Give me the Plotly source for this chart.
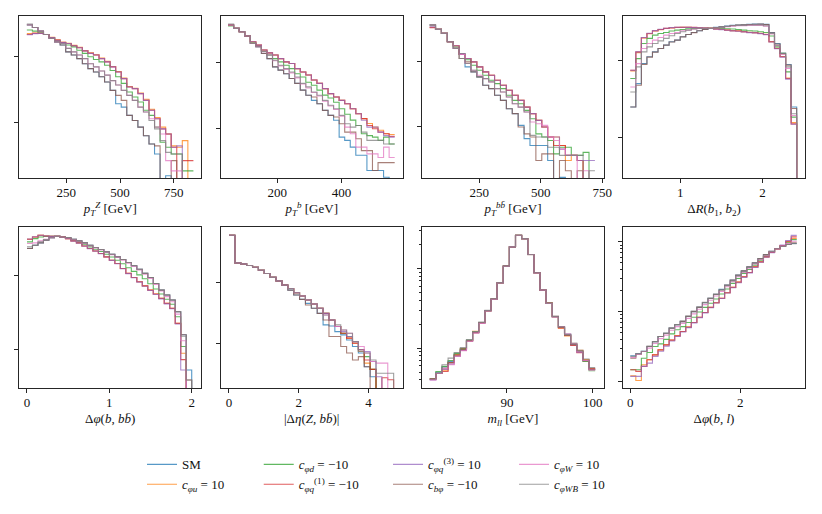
import numpy as np
import plotly.graph_objects as go

# ---------------- bin edges ----------------
ptz_edges = list(np.linspace(66, 842, 31))
ptb_edges = list(np.linspace(47, 565, 31))
ptbb_edges = list(np.linspace(49, 720, 29))
dr_edges = list(np.linspace(0.393, 2.417, 31)) + [2.485]
dphibb_edges = list(np.linspace(0.0, 2.0, 31)) + [2.067]
deta_edges = list(np.linspace(0.0, 4.72, 29)) + [4.89]
mll_edges = list(np.linspace(81.0, 100.27, 28))
dphil_edges = list(np.linspace(0.0, 3.03, 31))

# ---------------- p_T^Z ----------------
ptz_sm    = [293, 270, 238, 212, 185, 164, 147, 116, 104, 92, 77, 65, 58, 49, 41, 30.7, 19.3, 17.2, 12.9, 10.8, 8.6, 6.4, 4.8, 3.4, 0, 1.6, 0, 0, 0, 0]
ptz_cphiu = [218, 222, 220, 212, 192, 176, 162, 156, 145, 136, 121, 112, 105, 94, 84, 70, 59, 47, 35, 33, 28, 22.5, 16, 12, 8.6, 6.8, 4.5, 4.3, 5.4, 0]
ptz_cphid = [247, 238, 225, 212, 190, 170, 160, 147, 138, 123, 110, 98, 89, 82, 73, 61, 49, 39, 29, 24.4, 20.5, 15.4, 12.9, 8.6, 5.1, 4.3, 3.4, 3.4, 1.9, 1.9]
ptz_cphiq1 = [212, 220, 220, 212, 191, 174, 161, 155, 143, 134, 120, 110, 104, 92, 82, 69, 58, 46, 34.5, 32.6, 27.4, 21.7, 15.4, 11.5, 8.1, 6.8, 4.3, 0, 2.7, 2.7]
ptz_cphiq3 = [210, 218, 220, 212, 190, 173, 160, 155, 143, 134, 120, 110, 104, 92, 82, 69, 58, 46, 34.5, 32.6, 27.4, 21.7, 15.4, 11.5, 8.1, 6.8, 4.3, 4.5, 0, 0]
ptz_cbphi = [293, 270, 238, 212, 185, 164, 147, 116, 104, 92, 77, 65, 58, 49, 41, 30.7, 25.8, 21.7, 12.9, 10.8, 8.6, 6.4, 4.8, 4.5, 0, 0, 2.7, 0, 0, 0]
ptz_cphiw = [296, 270, 238, 212, 185, 164, 155, 131, 116, 104, 92, 77, 69, 60, 52, 43, 37, 30.7, 25.8, 21.7, 17.2, 14.5, 11.5, 8.6, 6.8, 2.7, 1.9, 1.9, 0, 0]
ptz_cphiwb = [303, 270, 238, 212, 185, 164, 155, 131, 116, 104, 92, 77, 69, 60, 52, 43, 37, 30.7, 25.8, 21.7, 17.2, 14.5, 10.8, 8.1, 5.4, 3.6, 3.4, 3.4, 0, 0]

# ---------------- p_T^b ----------------
ptb_sm    = [361, 322, 286, 247, 191, 170, 135, 113, 85, 76, 67, 57, 48, 38, 31.8, 26.7, 23.8, 18.9, 15.9, 13.4, 7.5, 6.7, 5.3, 4.0, 4.0, 2.36, 2.36, 2.36, 1.87, 0]
ptb_cphiu = [361, 322, 286, 247, 203, 180, 152, 138, 128, 113, 101, 95.5, 80, 71, 64, 54, 48, 40, 33.7, 30, 26.7, 23.8, 20, 16.8, 14.2, 12, 10.6, 9.5, 8.4, 8.2]
ptb_cphid = [349, 322, 286, 247, 195, 175, 145, 128, 113, 101, 90, 80, 67, 60, 50, 45, 38, 32, 29, 25, 20, 16.5, 13.5, 11.2, 8.4, 7.9, 7.5, 6.7, 7.5, 5.9]
ptb_cphiq1 = [361, 322, 286, 247, 203, 180, 152, 138, 128, 113, 101, 95.5, 80, 71, 64, 54, 48, 40, 33.7, 30, 26.7, 23.8, 20, 16.8, 14.2, 11.2, 10, 8.9, 8.4, 7.7]
ptb_cphiq3 = [361, 322, 286, 247, 203, 180, 152, 138, 128, 113, 101, 95.5, 80, 71, 64, 54, 48, 40, 33.7, 30, 26.7, 23.8, 20, 16.8, 13.4, 10.6, 10.6, 8.9, 7.9, 7.5]
ptb_cbphi = [361, 322, 286, 247, 191, 170, 135, 113, 85, 76, 67, 57, 48, 38, 31.8, 30, 23.8, 18.9, 15.9, 15, 11.9, 8.9, 8.9, 7.1, 4.7, 4.7, 2.36, 3.1, 3.1, 3.1]
ptb_cphiw = [361, 322, 286, 247, 191, 170, 143, 128, 105, 88, 78, 69, 58, 47, 41, 35, 31, 26, 22, 19.5, 15.5, 10.6, 8.4, 5.3, 5.3, 4.2, 4.2, 3.7, 5.3, 3.7]
ptb_cphiwb = [374, 322, 286, 247, 191, 170, 143, 128, 107, 90, 80, 71, 60, 48, 42.5, 35.7, 31.8, 26.7, 22.5, 20, 15.9, 11.9, 10.6, 11.2, 8.9, 6.7, 6.7, 6.7, 5.9, 5.9]

# ---------------- p_T^{bb} ----------------
ptbb_sm    = [358, 307, 267, 198, 157, 131, 81.8, 68.6, 57.4, 42.7, 38, 30, 25.1, 18.7, 15.7, 10.4, 6.5, 5.1, 5.1, 5.1, 3.0, 0, 1.66, 0, 0, 0, 0, 0]
ptbb_cphiu = [330, 307, 267, 198, 172, 127, 110, 97.7, 81.8, 68.6, 60.9, 51, 42.7, 35.8, 30, 25.1, 19.8, 15.7, 12.4, 9.8, 6.9, 6.9, 5.1, 3.0, 3.6, 3.0, 0, 0]
ptbb_cphid = [358, 307, 267, 198, 165, 127, 105, 86.8, 72.7, 60.9, 51, 45.3, 38, 30, 25.1, 22.3, 17.6, 13.1, 7.7, 6.9, 6.1, 3.8, 4.8, 4.8, 3.6, 3.6, 4.0, 0]
ptbb_cphiq1 = [326, 307, 267, 198, 172, 127, 110, 97.7, 81.8, 68.6, 60.9, 51, 42.7, 35.8, 30, 25.1, 19.8, 15.7, 12.4, 9.8, 6.9, 5.1, 5.1, 3.6, 3.6, 3.0, 0, 0]
ptbb_cphiq3 = [335, 307, 267, 198, 172, 127, 110, 97.7, 81.8, 68.6, 60.9, 51, 42.7, 35.8, 30, 25.1, 19.8, 15.7, 12.4, 9.8, 6.9, 6.9, 4.5, 3.6, 3.6, 3.0, 3.0, 3.0]
ptbb_cbphi = [358, 307, 267, 198, 157, 110, 97.7, 68.6, 57.4, 42.7, 38, 30, 25.1, 18.7, 15.7, 9.8, 7.7, 6.9, 3.0, 3.8, 3.8, 0, 3.0, 2.1, 0, 2.1, 0, 0]
ptbb_cphiw = [358, 307, 267, 198, 157, 127, 92, 72.7, 60.9, 54.1, 48.1, 38, 33.7, 28.3, 22.3, 19.8, 16.6, 11.7, 11, 10.4, 6.9, 6.1, 4.5, 3.6, 3.6, 0, 2.1, 0]
ptbb_cphiwb = [358, 307, 267, 198, 157, 110, 92, 72.7, 57.4, 54.1, 48.1, 38, 33.7, 28.3, 22.3, 19.8, 16.6, 7.3, 6.9, 6.9, 4.8, 4.8, 3.6, 3.6, 3.6, 3.6, 0, 2.1]

# ---------------- Delta R(b1,b2) ----------------
dr_sm    = [25.1, 50.6, 92, 113, 131, 145, 160, 177, 186, 206, 220, 234, 246, 256, 264, 272, 277, 283, 289, 292, 295, 298, 300, 300, 298, 234, 168, 125, 89.6, 25.1, 0]
dr_cphiu = [74.1, 128, 198, 225, 244, 255, 263, 268, 271, 272, 272, 271, 269, 267, 264, 260, 257, 252, 247, 245, 240, 235, 233, 228, 221, 178, 146, 114, 60, 15.8, 0]
dr_cphid = [58.9, 107, 168, 196, 216, 227, 234, 244, 251, 256, 261, 264, 264, 264, 264, 264, 264, 261, 259, 256, 251, 246, 244, 239, 234, 210, 152, 125, 71.9, 18.6, 0]
dr_cphiq1 = [75.5, 131, 200, 227, 246, 256, 264, 269, 272, 272, 272, 272, 269, 267, 264, 259, 256, 251, 246, 244, 239, 234, 232, 227, 220, 177, 145, 113, 58.9, 15.2, 0]
dr_cphiq3 = [75.5, 131, 201, 228, 247, 257, 265, 270, 273, 273, 272, 271, 268, 266, 263, 258, 255, 250, 245, 243, 238, 233, 231, 226, 219, 176, 144, 112, 58, 15, 0]
dr_cbphi = [25.1, 48.2, 90, 112, 130, 145, 160, 176, 186, 205, 220, 233, 246, 256, 264, 271, 277, 282, 288, 292, 295, 297, 299, 300, 297, 232, 166, 123, 88, 24, 0]
dr_cphiw = [45.8, 92, 145, 168, 186, 201, 216, 227, 234, 246, 251, 259, 264, 264, 264, 267, 270, 278, 283, 286, 287, 289, 289, 289, 283, 224, 158, 122, 80, 19.5, 0]
dr_cphiwb = [39.4, 83.5, 131, 152, 168, 182, 196, 212, 227, 239, 251, 259, 264, 264, 264, 269, 272, 280, 286, 289, 289, 292, 292, 292, 286, 227, 160, 125, 83.5, 20.6, 0]

# ---------------- Delta phi(b, bb) ----------------
dphibb_sm    = [235, 261, 281, 305, 331, 345, 338, 331, 315, 299, 281, 261, 243, 228, 212, 197, 181, 167, 152, 137, 123, 108, 95, 78.7, 63.8, 54.7, 46.8, 32.4, 15.7, 5.2, 0]
dphibb_cphiu = [315, 338, 357, 349, 345, 345, 338, 321, 299, 281, 255, 235, 218, 201, 181, 163, 147, 126, 108, 95, 83, 73, 63.8, 56.4, 49.2, 42.1, 36, 22.5, 8.8, 0, 0]
dphibb_cphid = [290, 321, 338, 345, 345, 345, 338, 325, 305, 290, 270, 248, 230, 214, 197, 180, 163, 146, 129, 115, 103, 91, 78, 66, 56.4, 48, 41, 27.7, 10.9, 0, 0]
dphibb_cphiq1 = [315, 338, 357, 349, 345, 345, 338, 321, 299, 281, 255, 235, 218, 201, 181, 163, 147, 126, 108, 95, 83, 73, 63.8, 56.4, 49.2, 42.1, 36, 22.5, 7.2, 0, 0]
dphibb_cphiq3 = [318, 340, 357, 349, 345, 345, 336, 320, 297, 279, 254, 234, 217, 200, 180, 162, 146, 125, 107, 94, 82, 72, 63, 55.5, 48.5, 41.5, 35.5, 22, 5.2, 0, 0]
dphibb_cbphi = [235, 261, 281, 305, 331, 345, 338, 331, 315, 299, 281, 261, 243, 228, 212, 197, 181, 167, 152, 137, 123, 108, 95, 78.7, 63.8, 54.7, 46.8, 32.4, 15.7, 3.8, 0]
dphibb_cphiw = [275, 281, 299, 315, 331, 345, 338, 327, 311, 295, 275, 255, 240, 225, 209, 194, 178, 163, 149, 134, 120, 105, 92, 76, 62, 52, 44.4, 30, 13, 0, 0]
dphibb_cphiwb = [248, 261, 290, 311, 331, 345, 338, 331, 315, 299, 281, 261, 243, 228, 212, 197, 181, 167, 152, 137, 123, 108, 95, 78.7, 63.8, 54.7, 46.8, 32.4, 15, 3.8, 0]

# ---------------- |Delta eta(Z, bb)| ----------------
deta_sm    = [597, 210, 202, 190, 178, 159, 140, 121, 106, 90.4, 74.8, 62, 52.6, 45.3, 37.5, 31, 20, 19.2, 15.5, 13.7, 11.3, 8.8, 6.9, 4.1, 2.8, 0, 0, 0, 0]
deta_cphiu = [597, 210, 202, 190, 178, 159, 140, 121, 106, 90.4, 79.7, 67.7, 59.7, 51.3, 44.2, 37.5, 31, 24.1, 18.8, 14.6, 12.1, 10, 7.3, 4.7, 3.7, 0, 0, 0, 0]
deta_cphid = [597, 210, 202, 190, 178, 159, 140, 121, 106, 90.4, 79.7, 67.7, 59.7, 51.3, 44.2, 37.5, 31, 24.1, 18.8, 14.6, 12.9, 10.6, 7.8, 6.0, 3.7, 0, 0, 0, 0]
deta_cphiq1 = [597, 210, 202, 190, 178, 159, 140, 121, 106, 90.4, 79.7, 67.7, 59.7, 51.3, 44.2, 37.5, 31, 24.1, 18.8, 14.6, 12.1, 10, 7.8, 5.3, 3.7, 0, 2.7, 2.5, 0]
deta_cphiq3 = [597, 210, 202, 190, 178, 159, 140, 121, 106, 90.4, 79.7, 67.7, 59.7, 51.3, 44.2, 37.5, 31, 24.1, 18.8, 15.5, 12.9, 10.6, 7.8, 7.3, 5.0, 2.8, 0, 0, 0]
deta_cbphi = [597, 210, 202, 190, 178, 159, 140, 121, 106, 90.4, 74.8, 62, 52.6, 42.5, 37.5, 31, 24.1, 12.9, 12.9, 8.8, 6.9, 5.3, 6.0, 4.1, 0, 0, 0, 0, 0]
deta_cphiw = [597, 210, 202, 190, 178, 159, 140, 121, 106, 90.4, 79.7, 67.7, 59.7, 51.3, 44.2, 37.5, 29.1, 24.1, 18.8, 16.5, 14.6, 10.6, 8.8, 6.9, 5.0, 4.7, 4.7, 0, 0]
deta_cphiwb = [597, 210, 202, 190, 178, 159, 140, 121, 106, 90.4, 79.7, 67.7, 59.7, 51.3, 44.2, 37.5, 29.1, 24.1, 20, 16.5, 14.6, 10.6, 7.3, 6.9, 5.3, 3.2, 3.2, 3.2, 0]

# ---------------- m_ll ----------------
mll_sm    = [4.1, 4.9, 5.8, 6.8, 8.4, 9.6, 12.5, 15.8, 20.9, 29.6, 41.4, 66.2, 107, 187, 261, 237, 150, 88.3, 53.6, 36.5, 24.9, 18.3, 14.7, 11, 9.1, 7.1, 5.5]
mll_cphiu = [4.1, 4.8, 5.3, 6.6, 8.3, 9.8, 12.5, 16.3, 21, 29.6, 41.4, 66.2, 107, 187, 261, 237, 150, 88.3, 53.6, 37, 24.9, 17.8, 14.2, 11.2, 9.4, 7.2, 5.5]
mll_cphid = [4.1, 5.1, 5.9, 7.0, 8.6, 9.8, 12.6, 16, 21, 29.6, 41.4, 66, 107, 187, 261, 237, 150, 88.3, 53.6, 36.5, 24.9, 18.2, 14.9, 11.5, 9.0, 6.8, 5.2]
mll_cphiq1 = [4.1, 4.8, 5.1, 6.5, 8.0, 9.4, 12.3, 15.6, 20.7, 29.6, 41.4, 66.2, 107, 187, 261, 237, 150, 88.3, 53.6, 36.5, 24.9, 18.0, 14.5, 10.8, 8.8, 7.0, 5.5]
mll_cphiq3 = [4.0, 4.8, 5.4, 6.3, 7.9, 9.4, 12.3, 15.6, 20.7, 29.6, 41.4, 66.2, 107, 187, 261, 237, 150, 88.3, 53.6, 36.5, 24.9, 18.6, 15, 11.2, 8.9, 7.0, 5.4]
mll_cbphi = [4.1, 4.8, 5.6, 6.6, 8.2, 9.8, 12.3, 15.6, 20.6, 29.3, 41, 66, 106, 186, 260, 236, 149, 88, 53.3, 36.8, 25.2, 18.5, 14.5, 11.2, 9.3, 6.9, 5.4]
mll_cphiw = [4.0, 4.8, 5.6, 6.2, 7.9, 9.3, 12.2, 15.5, 20.5, 29.3, 41, 66, 106, 187, 260, 236, 150, 88, 53.5, 36.3, 24.6, 18.6, 15, 11.5, 9.0, 7.0, 5.3]
mll_cphiwb = [4.1, 4.9, 6.2, 7.5, 8.8, 10.2, 12.8, 16.2, 21.2, 29.8, 41.6, 66.5, 107, 187, 261, 237, 150, 88.5, 53.8, 36.8, 25.1, 18.6, 14.8, 11.3, 9.4, 7.3, 5.7]

# ---------------- Delta phi(b, l) ----------------
dphil_sm    = [2.33, 2.5, 2.7, 3.16, 3.7, 4.4, 4.9, 5.8, 6.5, 7.2, 8.5, 10, 11.5, 13.4, 15.5, 17.7, 20.9, 24, 28.3, 33.4, 38.5, 43.9, 50.1, 57.8, 65.9, 73.6, 80.3, 86.7, 92.6, 94.7]
dphil_cphiu = [1.2, 1.03, 1.73, 2.04, 2.40, 2.83, 3.34, 3.9, 4.5, 5.2, 6.0, 7.0, 8.3, 9.7, 11.5, 13.4, 15.5, 18.7, 22.3, 26.5, 31.6, 36.5, 43.9, 51.8, 61.1, 70.4, 79.4, 88.7, 100, 112]
dphil_cphid = [1.47, 1.47, 2.15, 2.6, 3.16, 3.45, 4.0, 4.8, 5.5, 6.1, 7.0, 8.3, 9.9, 11.5, 13.2, 15.2, 17.9, 21.1, 25.4, 29.9, 35.3, 40.3, 46.4, 54.7, 63.1, 71.9, 80.3, 87.7, 98.9, 108]
dphil_cphiq1 = [1.47, 1.39, 1.64, 2.04, 2.40, 2.83, 3.34, 3.9, 4.5, 5.2, 6.0, 7.0, 8.3, 9.7, 11.5, 13.4, 15.5, 18.7, 22.3, 26.5, 31.6, 36.5, 43.9, 51.8, 61.1, 70.4, 79.4, 88.7, 102, 118]
dphil_cphiq3 = [1.18, 1.18, 1.64, 1.83, 2.28, 2.7, 3.2, 3.8, 4.4, 5.1, 5.9, 6.9, 8.2, 9.6, 11.4, 13.3, 15.4, 18.5, 22, 26, 31, 36, 43, 51, 60.5, 70, 79.4, 90, 105, 124]
dphil_cbphi = [2.15, 2.45, 2.68, 3.16, 3.7, 4.4, 4.9, 5.8, 6.5, 7.2, 8.5, 10, 11.5, 13.4, 15.5, 17.7, 20.4, 24, 28.3, 33.4, 38.5, 43.9, 50.1, 57.8, 65.9, 73.6, 80.3, 86.7, 92.6, 96.8]
dphil_cphiw = [2.2, 2.45, 2.68, 3.0, 3.5, 4.1, 4.6, 5.4, 6.1, 6.8, 8.0, 9.3, 10.8, 12.6, 14.6, 16.8, 19.5, 22.8, 26.8, 31.6, 36.5, 42, 48.5, 56, 64, 72.5, 80, 87, 95, 102]
dphil_cphiwb = [2.28, 2.5, 2.7, 3.2, 3.7, 4.4, 4.9, 5.8, 6.5, 7.4, 8.7, 10.2, 11.7, 13.6, 15.5, 17.7, 20.4, 23.5, 27.5, 32.5, 37.5, 43, 49.5, 57, 65, 73, 80, 86, 92, 94]

# ---------------- series / labels ----------------
series_keys = ["sm", "cphiu", "cphid", "cphiq1", "cphiq3", "cbphi", "cphiw", "cphiwb"]
series_names = [
    "SM",
    "<i>c</i><sub><i>φu</i></sub> = 10",
    "<i>c</i><sub><i>φd</i></sub> = −10",
    "<i>c</i><sub><i>φq</i></sub><sup>(1)</sup> = −10",
    "<i>c</i><sub><i>φq</i></sub><sup>(3)</sup> = 10",
    "<i>c</i><sub><i>bφ</i></sub> = −10",
    "<i>c</i><sub><i>φW</i></sub> = 10",
    "<i>c</i><sub><i>φWB</i></sub> = 10",
]
series_colors = ["#1f77b4", "#ff7f0e", "#2ca02c", "#d62728", "#9467bd", "#8c564b", "#e377c2", "#7f7f7f"]
legend_ids = ["legend", "legend", "legend2", "legend2", "legend3", "legend3", "legend4", "legend4"]

panel_prefixes = ["ptz", "ptb", "ptbb", "dr", "dphibb", "deta", "mll", "dphil"]
x_titles = [
    "<i>p</i><sub><i>T</i></sub><sup><i>Z</i></sup> [GeV]",
    "<i>p</i><sub><i>T</i></sub><sup><i>b</i></sup> [GeV]",
    "<i>p</i><sub><i>T</i></sub><sup><i>bb̄</i></sup> [GeV]",
    "Δ<i>R</i>(<i>b</i><sub>1</sub>, <i>b</i><sub>2</sub>)",
    "Δ<i>φ</i>(<i>b</i>, <i>bb̄</i>)",
    "|Δ<i>η</i>(<i>Z</i>, <i>bb̄</i>)|",
    "<i>m</i><sub><i>ll</i></sub> [GeV]",
    "Δ<i>φ</i>(<i>b</i>, <i>l</i>)",
]
x_ticks = [[250, 500, 750], [200, 400], [250, 500, 750], [1, 2], [0, 1, 2], [0, 2, 4], [90, 100], [0, 2]]
x_ranges = [[29.5, 879], [24, 590], [18, 757], [0.304, 2.518], [-0.097, 2.117], [-0.238, 4.98], [80.1, 101.3], [-0.133, 3.18]]
y_ranges = [[0.171, 2.603], [0.261, 2.693], [0.210, 2.692], [0.478, 2.583], [0.471, 2.665], [0.262, 2.913], [0.5, 2.521], [-0.095, 2.214]]
minor_panels = [6, 7]

g = globals()
fig = go.Figure()

x_domains = [[0.0, 0.232], [0.2566, 0.4882], [0.5127, 0.7443], [0.7684, 1.0]]
y_domains = [[0.5645, 1.0], [0.0, 0.4328]]

font_family = "Liberation Serif, DejaVu Serif, serif"
axcol = "#262626"
txtcol = "#111111"

for p, pre in enumerate(panel_prefixes):
    edges = g[pre + "_edges"]
    ax = "" if p == 0 else str(p + 1)
    for s, key in enumerate(series_keys):
        vals = g[pre + "_" + key]
        yplot = [v if v > 0 else 1e-4 for v in vals]
        yplot = yplot + [yplot[-1]]
        fig.add_trace(go.Scatter(
            x=edges[:len(yplot)], y=yplot, mode="lines",
            line=dict(color=series_colors[s], width=1.1, shape="hv"),
            opacity=0.75,
            name=series_names[s], legend=legend_ids[s],
            showlegend=(p == 0),
            xaxis="x" + ax, yaxis="y" + ax, hoverinfo="skip",
        ))
    row, col = divmod(p, 4)
    common = dict(showline=True, mirror=True, linecolor=axcol, linewidth=1,
                  ticks="outside", ticklen=4, tickcolor=axcol, tickwidth=1,
                  showgrid=False, zeroline=False, automargin=False)
    xa = dict(domain=x_domains[col], anchor="y" + ax, range=x_ranges[p],
              tickmode="array", tickvals=x_ticks[p], ticklabelstandoff=-2,
              tickfont=dict(family=font_family, size=13, color=txtcol),
              title=dict(text=x_titles[p], font=dict(family=font_family, size=13, color=txtcol), standoff=5),
              **common)
    ya = dict(domain=y_domains[row], anchor="x" + ax, type="log", range=y_ranges[p],
              tickmode="array", tickvals=[1, 10, 100, 1000], showticklabels=False, **common)
    if p in minor_panels:
        ya["minor"] = dict(tickmode="array",
                           tickvals=[2, 3, 4, 5, 6, 7, 8, 9, 20, 30, 40, 50, 60, 70, 80, 90, 200, 300, 400, 500],
                           ticks="outside", ticklen=2, tickcolor=axcol, tickwidth=1, showgrid=False)
    fig.layout["xaxis" + ax] = xa
    fig.layout["yaxis" + ax] = ya

legend_x = [0.1565, 0.305, 0.4695, 0.6298]
legend_common = dict(orientation="v", xanchor="left", y=-0.165, yanchor="top",
                     font=dict(family=font_family, size=13, color=txtcol),
                     bgcolor="rgba(0,0,0,0)", tracegroupgap=0)

# the page body has an 8px default margin, so the figure is sized/margined to compensate
fig.update_layout(
    width=814, height=506,
    margin=dict(l=11, r=17, t=8, b=126),
    paper_bgcolor="white", plot_bgcolor="white",
    font=dict(family=font_family, size=13, color=txtcol),
    legend=dict(x=legend_x[0], **legend_common),
    legend2=dict(x=legend_x[1], **legend_common),
    legend3=dict(x=legend_x[2], **legend_common),
    legend4=dict(x=legend_x[3], **legend_common),
)

fig.write_html("out.html")
